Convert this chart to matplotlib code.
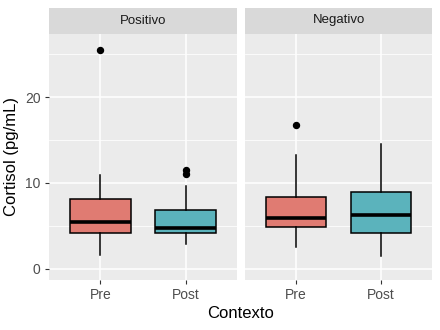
import matplotlib
matplotlib.use("Agg")
import matplotlib.pyplot as plt
from matplotlib.ticker import MultipleLocator

plt.rcParams['font.family'] = ['Liberation Sans', 'DejaVu Sans']

facets = ["Positivo", "Negativo"]
categories = ["Pre", "Post"]
# stats per facet: [whislo, q1, med, q3, whishi]
stats = {
    "Positivo": {"Pre": [1.6, 4.15, 5.45, 8.1, 10.9], "Post": [2.85, 4.15, 4.75, 6.8, 9.65]},
    "Negativo": {"Pre": [2.6, 4.85, 5.9, 8.35, 13.25], "Post": [1.55, 4.15, 6.25, 9.0, 14.5]},
}
outliers = {
    "Positivo": {"Pre": [25.5], "Post": [11.0, 11.5]},
    "Negativo": {"Pre": [16.7], "Post": []},
}
fill_colors = ["#E07B72", "#5BB3BC"]
yticks = [0, 10, 20]

fig = plt.figure(figsize=(4.4, 3.3), dpi=100)
W, H = 440, 330
panels = [(49, 237), (245, 432)]
ptop, pbot = 33.5, 280
strip_top = 7.5

for i, (facet, (x0, x1)) in enumerate(zip(facets, panels)):
    ax = fig.add_axes([x0 / W, 1 - pbot / H, (x1 - x0) / W, (pbot - ptop) / H])
    ax.set_facecolor("#EBEBEB")
    for s in ax.spines.values():
        s.set_visible(False)
    ax.set_xlim(0.4, 2.6)
    ax.set_ylim(-1.3, 27.4)
    ax.yaxis.set_major_locator(MultipleLocator(10))
    ax.yaxis.set_minor_locator(MultipleLocator(5))
    ax.grid(True, which="major", color="white", linewidth=1.1)
    ax.grid(True, which="minor", axis="y", color="white", linewidth=0.55)
    ax.set_axisbelow(True)
    bxs = []
    for c in categories:
        lo, q1, med, q3, hi = stats[facet][c]
        bxs.append(dict(whislo=lo, q1=q1, med=med, q3=q3, whishi=hi, fliers=outliers[facet][c], label=c))
    res = ax.bxp(bxs, positions=[1, 2], widths=0.71, patch_artist=True, showcaps=False,
                 boxprops=dict(edgecolor="black", linewidth=1.1),
                 medianprops=dict(color="black", linewidth=2.6, solid_capstyle="butt"),
                 whiskerprops=dict(color="black", linewidth=1.1),
                 flierprops=dict(marker="o", markerfacecolor="black", markeredgecolor="black", markersize=4.3))
    for patch, col in zip(res["boxes"], fill_colors):
        patch.set_facecolor(col)
    ax.set_xticks([1, 2])
    ax.set_xticklabels(categories, fontsize=10, color="#4D4D4D")
    ax.tick_params(axis="x", length=3, color="#333333", width=0.8, pad=3)
    ax.tick_params(which="minor", length=0)
    if i == 0:
        ax.set_yticks(yticks)
        ax.set_yticklabels([str(t) for t in yticks], fontsize=10, color="#4D4D4D")
        ax.tick_params(axis="y", length=3, color="#333333", width=0.8, pad=3)
        ax.set_ylabel("Cortisol (pg/mL)", fontsize=12, labelpad=4)
    else:
        ax.tick_params(axis="y", which="both", length=0, labelleft=False)
    sax = fig.add_axes([x0 / W, 1 - ptop / H, (x1 - x0) / W, (ptop - strip_top) / H])
    sax.set_facecolor("#D9D9D9")
    sax.set_xticks([]); sax.set_yticks([])
    for s in sax.spines.values():
        s.set_visible(False)
    sax.text(0.5, 0.5, facet, ha="center", va="center", fontsize=9.5, color="#1A1A1A", transform=sax.transAxes)

fig.text((49 + 432) / 2 / W, 1 - 314 / H, "Contexto", ha="center", va="center", fontsize=12)
fig.savefig("out.png", dpi=100, facecolor="white")
